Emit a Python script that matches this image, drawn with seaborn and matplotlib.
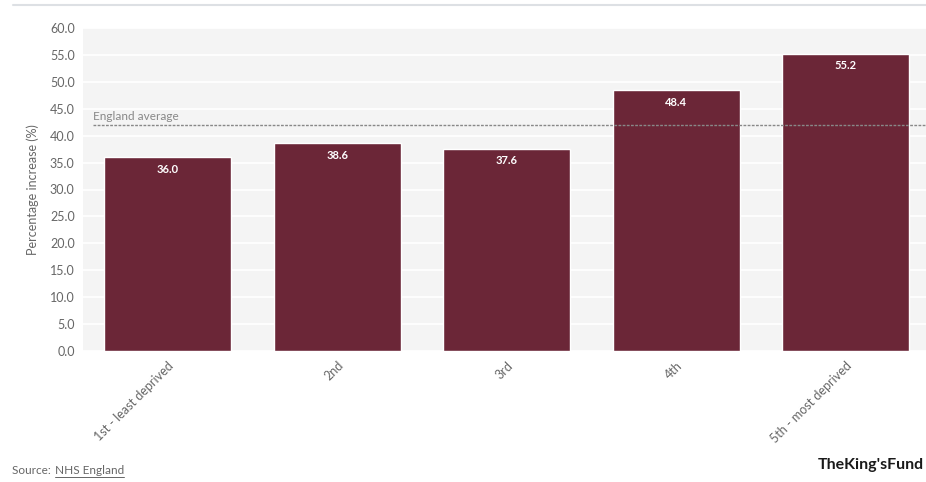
import matplotlib
matplotlib.use("Agg")
import matplotlib.pyplot as plt
import seaborn as sns
import pandas as pd
from matplotlib.lines import Line2D

categories = ["1st - least deprived", "2nd", "3rd", "4th", "5th - most deprived"]
values = [36.0, 38.6, 37.6, 48.4, 55.2]
england_average = 42.0
yticks = [0, 5, 10, 15, 20, 25, 30, 35, 40, 45, 50, 55, 60]

df = pd.DataFrame({"quintile": categories, "increase": values})

sns.set_theme(style="white")
plt.rcParams["font.family"] = ["Lato", "DejaVu Sans"]

W, H = 926, 482
fig = plt.figure(figsize=(W / 100, H / 100), dpi=100)
ax = fig.add_axes([83 / W, 131 / H, 1 - 83 / W, 323 / H])
ax.set_facecolor("#f4f4f4")

sns.barplot(data=df, x="quintile", y="increase", color="#6b2637",
            saturation=1, width=0.75, ax=ax, zorder=3)

ax.set_ylim(0, 60)
ax.set_xlim(-0.5, 4.475)
ax.set_yticks(yticks)
ax.set_yticklabels([f"{t:.1f}" for t in yticks], color="#666666", fontsize=9)
ax.yaxis.grid(True, color="white", linewidth=1.2, zorder=0)
ax.set_axisbelow(True)
ax.tick_params(axis="both", length=0, pad=6)
for s in ax.spines.values():
    s.set_visible(False)

ax.set_xticks(range(len(categories)))
ax.set_xticklabels(categories, rotation=45, ha="right", rotation_mode="anchor",
                   color="#666666", fontsize=9)
ax.tick_params(axis="x", pad=6)
ax.set_xlabel("")
ax.set_ylabel("Percentage increase (%)", color="#666666", fontsize=9, labelpad=8)

for i, v in enumerate(values):
    ax.text(i, v - 1.2, f"{v:.1f}", ha="center", va="top", color="white",
            fontsize=8, fontweight="bold", zorder=5)

# England average reference line
ax.axhline(england_average, xmin=(93 - 83) / (W - 83), xmax=1,
           color="#888888", linestyle=(0, (2, 1)), linewidth=1, zorder=4)
ax.text(-0.44, england_average + 0.6, "England average", color="#888888",
        fontsize=8.5, ha="left", va="bottom", zorder=5)

# Top rule
fig.add_artist(Line2D([13 / W, 1], [1 - 5 / H, 1 - 5 / H],
                      color="#dde0e4", linewidth=1.5))

# Footer: source with underlined link text, and the logotype
fig.text(12 / W, 1 - 471 / H, "Source: ", color="#666666", fontsize=8.5,
         va="center", ha="left")
fig.text(55 / W, 1 - 471 / H, "NHS England", color="#666666", fontsize=8.5,
         va="center", ha="left")
fig.add_artist(Line2D([55 / W, 124 / W], [1 - 477 / H, 1 - 477 / H],
                      color="#666666", linewidth=0.7))

fig.text(924 / W, 1 - 465 / H, "TheKing'sFund", color="#1a1a1a", fontsize=11.5,
         fontweight="bold", va="center", ha="right")

fig.savefig("out.png", dpi=100)
